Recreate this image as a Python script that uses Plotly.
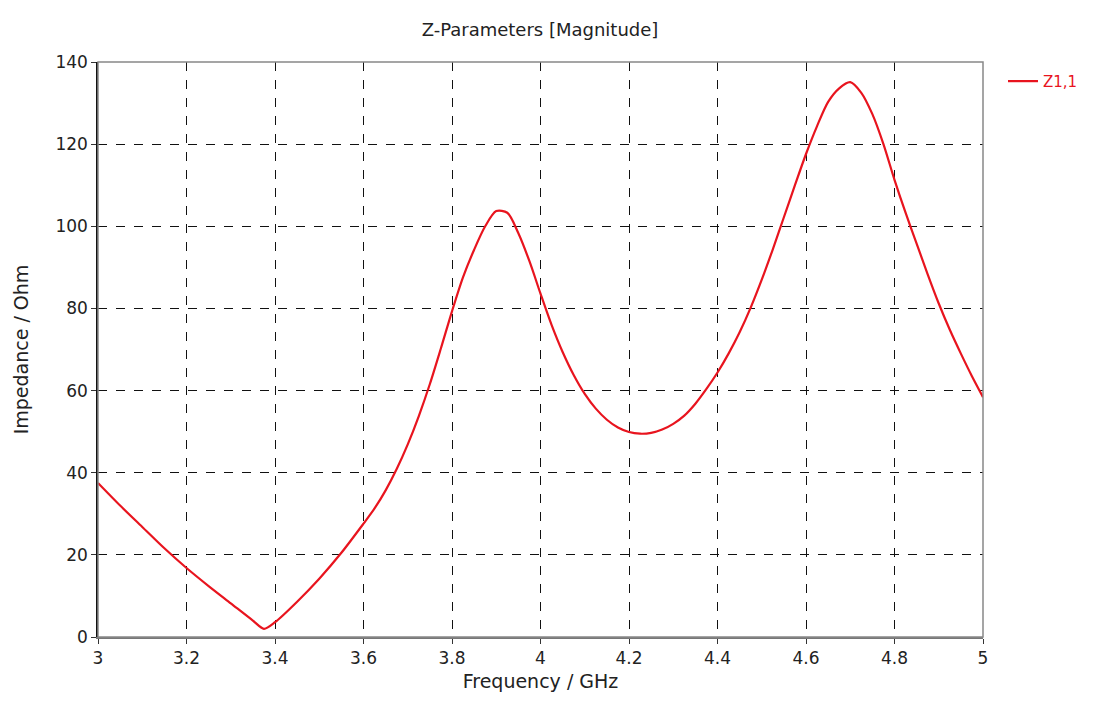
import plotly.graph_objects as go

freq = [3.0, 3.05, 3.1, 3.15, 3.2, 3.25, 3.3, 3.35, 3.375, 3.4, 3.45, 3.5, 3.55,
        3.6, 3.625, 3.65, 3.675, 3.7, 3.725, 3.75, 3.775, 3.8, 3.825, 3.85, 3.875,
        3.9, 3.925, 3.95, 3.975, 4.0, 4.025, 4.05, 4.075, 4.1, 4.125, 4.15, 4.175,
        4.2, 4.225, 4.25, 4.275, 4.3, 4.325, 4.35, 4.375, 4.4, 4.425, 4.45, 4.475,
        4.5, 4.525, 4.55, 4.575, 4.6, 4.625, 4.65, 4.675, 4.7, 4.725, 4.75, 4.775,
        4.8, 4.825, 4.85, 4.875, 4.9, 4.925, 4.95, 4.975, 5.0]
z11 = [37.5, 32, 26.8, 21.6, 16.8, 12.4, 8.2, 4.0, 2.0, 3.6, 8.6, 14.2, 20.5,
       27.6, 31.3, 35.7, 40.9, 46.9, 53.8, 61.6, 70.3, 79.3, 87.6, 94.3, 100,
       103.7, 103.3, 98.3, 91.5, 83.6, 76.0, 69.4, 63.8, 59.2, 55.6, 52.9, 51.0,
       49.9, 49.5, 49.7, 50.5, 51.9, 53.9, 56.8, 60.4, 64.4, 69.0, 74.2, 80.2,
       87.0, 94.4, 102.2, 110.0, 117.6, 124.4, 130.3, 133.6, 135.1, 132.5, 127.3, 120.0,
       111.3, 103.3, 95.8, 88.3, 81.2, 74.8, 69.0, 63.5, 58.4]

x_ticks = [3, 3.2, 3.4, 3.6, 3.8, 4, 4.2, 4.4, 4.6, 4.8, 5]
x_tick_labels = ["3", "3.2", "3.4", "3.6", "3.8", "4", "4.2", "4.4", "4.6", "4.8", "5"]
y_ticks = [0, 20, 40, 60, 80, 100, 120, 140]

font_family = "Tahoma, DejaVu Sans, sans-serif"

fig = go.Figure()
fig.add_trace(go.Scatter(
    x=freq, y=z11, mode="lines", name="Z1,1",
    line=dict(color="#e8141e", width=2.2, shape="spline", smoothing=0.8),
))

fig.update_layout(
    width=1110, height=702,
    margin=dict(l=90, r=135, t=54, b=73),
    paper_bgcolor="white", plot_bgcolor="white",
    title=dict(text="Z-Parameters [Magnitude]", x=(540 - 8) / 1110, xanchor="center",
               y=1 - 22 / 702, yanchor="middle",
               font=dict(family=font_family, size=18, color="#222")),
    font=dict(family=font_family, size=17, color="#222"),
    showlegend=True,
    legend=dict(x=1.0226, y=0.995, xanchor="left", yanchor="top",
                font=dict(family=font_family, size=15, color="#e8141e"),
                bgcolor="rgba(0,0,0,0)"),
    shapes=[dict(type="rect", xref="paper", yref="paper", x0=0, x1=1, y0=0, y1=1,
                 line=dict(color="#888", width=1.5), layer="above")],
)

fig.update_xaxes(
    range=[3, 5], tickvals=x_ticks, ticktext=x_tick_labels,
    showgrid=True, gridcolor="#111", griddash="dash", gridwidth=1,
    zeroline=False, showline=True, linecolor="#777", linewidth=1.5,
    ticks="outside", ticklen=5, tickcolor="#333",
    title=dict(text="Frequency / GHz", standoff=8, font=dict(size=19)),
    tickfont=dict(size=17),
)
fig.update_yaxes(
    range=[0, 140], tickvals=y_ticks,
    showgrid=True, gridcolor="#111", griddash="dash", gridwidth=1,
    zeroline=False, showline=True, linecolor="#111", linewidth=1.5,
    ticks="outside", ticklen=5, tickcolor="#333",
    title=dict(text="Impedance / Ohm", standoff=22, font=dict(size=19)),
    tickfont=dict(size=17),
)

fig.write_html("out.html")
